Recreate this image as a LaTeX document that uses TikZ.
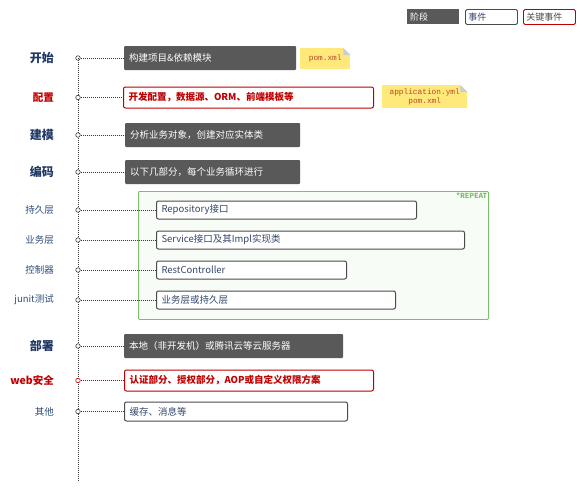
\documentclass[tikz,border=0pt]{standalone}
\usepackage{fontspec}
\setmainfont{Noto Sans CJK SC}
\newfontfamily\notefont{Liberation Mono}
\usepackage{tikz}
\usetikzlibrary{positioning}
\usepackage{xcolor}
\definecolor{stageblue}{HTML}{1F3864}
\definecolor{subblue}{HTML}{2F4B7C}
\definecolor{phasegray}{HTML}{595959}
\definecolor{eventline}{HTML}{4A4A4A}
\definecolor{eventtext}{HTML}{34476A}
\definecolor{keyred}{HTML}{C00000}
\definecolor{noteyellow}{HTML}{FFE97A}
\definecolor{notetext}{HTML}{B8472B}
\definecolor{foldgray}{HTML}{C9CED6}
\definecolor{repeatgreen}{HTML}{7DBE68}
\definecolor{repeatfill}{HTML}{F8FCF6}
\definecolor{dotline}{HTML}{3A3A3A}

\begin{document}
\begin{tikzpicture}[x=1pt,y=-1pt,
	stage/.style={anchor=east,inner sep=0pt,text=stageblue,font=\bfseries\fontsize{12}{14}\selectfont},
	substage/.style={anchor=east,inner sep=0pt,text=subblue,font=\fontsize{9.5}{11}\selectfont},
	keystage/.style={stage,text=keyred,font=\bfseries\fontsize{10.5}{12}\selectfont},
	pin/.style={circle,draw=dotline,fill=white,line width=0.6pt,inner sep=0pt,minimum size=4.5pt},
	link/.style={draw=dotline,line width=0.8pt,dash pattern=on 0.8pt off 1.2pt},
	phase/.style={anchor=west,fill=phasegray,text=white,rounded corners=1pt,inner xsep=5pt,minimum height=24pt,align=left,font=\fontsize{9.5}{11}\selectfont},
	event/.style={anchor=west,draw=eventline,fill=white,text=eventtext,line width=1pt,rounded corners=2pt,inner xsep=5pt,minimum height=18pt,align=left,font=\fontsize{9.5}{11}\selectfont},
	keyevent/.style={event,draw=keyred,text=keyred,font=\bfseries\fontsize{9.5}{11}\selectfont},
	note/.style={anchor=north west,fill=noteyellow,text=notetext,inner sep=0pt,align=center,font=\notefont\fontsize{7.8}{9}\selectfont},
	legend/.style={anchor=north west,inner xsep=3pt,inner ysep=0pt,minimum height=15pt,text width=46pt,align=left,font=\fontsize{9}{10}\selectfont}]
	\useasboundingbox (0,0) rectangle (584,490);

	% legend
	\node[legend,fill=phasegray,text=white,minimum width=52pt] (legphase) at (407,9) {阶段};
	\node[legend,draw=eventline,line width=0.9pt,rounded corners=1.5pt,text=eventtext] (legevent) at (465,9) {事件};
	\node[legend,draw=keyred,line width=0.9pt,rounded corners=1.5pt,text=eventline] (legkey) at (523,9) {关键事件};

	% repeat block
	\node[draw=repeatgreen,fill=repeatfill,line width=0.8pt,rounded corners=1pt,anchor=north west,minimum width=350pt,minimum height=128pt,inner sep=0pt]
		(repeat) at (138,191) {};
	\node[anchor=north east,inner sep=1.5pt,text=repeatgreen,font=\bfseries\fontsize{7}{8}\selectfont]
		(repeattext) at (repeat.north east) {*REPEAT};

	% time line
	\coordinate (bottom) at (78,482);
	\node[pin] (p1) at (78,58) {};
	\draw[link] (p1.center) -- (bottom);

	% stages
	\node[stage] (s1) at (54,58) {开始};
	\node[keystage] (s2) at (54,97.5) {配置};
	\node[stage] (s3) at (54,135) {建模};
	\node[stage] (s4) at (54,172) {编码};
	\node[substage] (s5) at (54,210) {持久层};
	\node[substage] (s6) at (54,240) {业务层};
	\node[substage] (s7) at (54,270) {控制器};
	\node[substage] (s8) at (54,300) {junit测试};
	\node[stage] (s9) at (54,346) {部署};
	\node[keystage] (s10) at (54,380.5) {web安全};
	\node[substage] (s11) at (54,411.5) {其他};

	% events
	\node[phase,text width=162pt] (e1) at (124,58) {构建项目\&依赖模块};
	\node[keyevent,text width=240pt,minimum height=21pt] (e2) at (123,97.5) {开发配置，数据源、ORM、前端模板等};
	\node[phase,text width=165pt] (e3) at (125,135) {分析业务对象，创建对应实体类};
	\node[phase,text width=165pt] (e4) at (125,172) {以下几部分，每个业务循环进行};
	\node[event,text width=250pt] (e5) at (156,210) {Repository接口};
	\node[event,text width=298pt] (e6) at (156,240) {Service接口及其Impl实现类};
	\node[event,text width=180pt] (e7) at (156,270) {RestController};
	\node[event,text width=229pt] (e8) at (156,300) {业务层或持久层};
	\node[phase,text width=209pt] (e9) at (124,346) {本地（非开发机）或腾讯云等云服务器};
	\node[keyevent,text width=239pt,minimum height=21pt] (e10) at (124,380.5) {认证部分、授权部分，AOP或自定义权限方案};
	\node[event,text width=213pt,minimum height=19pt] (e11) at (124,411.5) {缓存、消息等};

	% notes
	\node[note,minimum width=50pt,minimum height=21pt] (pom) at (300,48) {pom.xml};
	\node[note,minimum width=85pt,minimum height=23pt] (appyml) at (382,85) {application.yml\\pom.xml};
	\fill[white] (pom.north east) -- ++(-7,0) -- ++(7,7) -- cycle;
	\fill[foldgray] (pom.north east) ++(-7,0) -- ++(7,7) -- ++(-7,0) -- cycle;
	\fill[white] (appyml.north east) -- ++(-7,0) -- ++(7,7) -- cycle;
	\fill[foldgray] (appyml.north east) ++(-7,0) -- ++(7,7) -- ++(-7,0) -- cycle;

	% pins and links
	\node[pin] (p2) at (78,97.5) {};
	\node[pin] (p3) at (78,135) {};
	\node[pin] (p4) at (78,172) {};
	\node[pin] (p5) at (78,210) {};
	\node[pin] (p6) at (78,240) {};
	\node[pin] (p7) at (78,270) {};
	\node[pin] (p8) at (78,300) {};
	\node[pin] (p9) at (78,346) {};
	\node[pin,draw=keyred] (p10) at (78,380.5) {};
	\node[pin] (p11) at (78,411.5) {};
	\path[link] (p1) -- (e1);
	\path[link] (p2) -- (e2);
	\path[link] (p3) -- (e3);
	\path[link] (p4) -- (e4);
	\path[link] (p5) -- (e5);
	\path[link] (p6) -- (e6);
	\path[link] (p7) -- (e7);
	\path[link] (p8) -- (e8);
	\path[link] (p9) -- (e9);
	\path[link,draw=keyred] (p10) -- (e10);
	\path[link] (p11) -- (e11);
\end{tikzpicture}
\end{document}
